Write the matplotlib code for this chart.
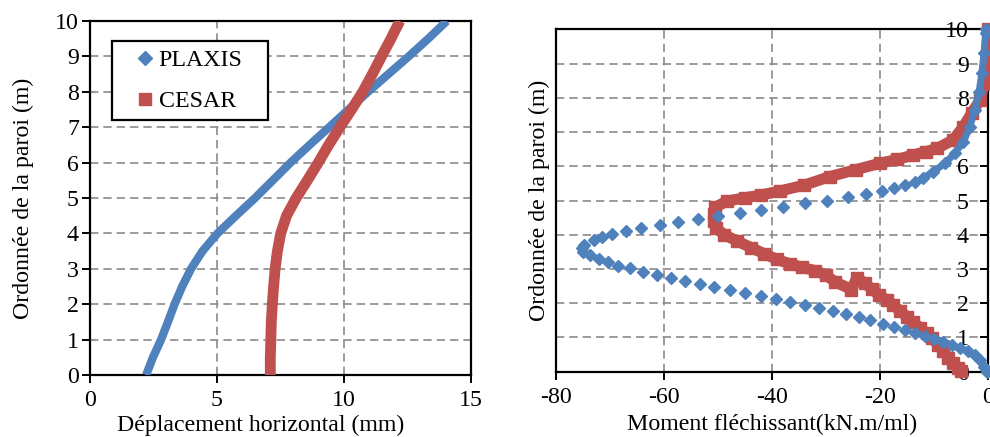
import numpy as np
import matplotlib.pyplot as plt
from matplotlib.lines import Line2D

plt.rcParams['font.family'] = ['Liberation Serif', 'DejaVu Serif']
plt.rcParams['font.size'] = 17.2
plt.rcParams['axes.unicode_minus'] = False

bleu = '#4F81BD'
rouge = '#C0504D'

# --- deplacement horizontal (mm) ---
ordonnee = [0, 0.5, 1, 1.5, 2, 2.5, 3, 3.5, 4, 4.5, 5, 5.5, 6, 6.5, 7, 7.5, 8, 8.5, 9, 9.5, 10]
depl_plaxis = [2.21, 2.48, 2.80, 3.07, 3.33, 3.63, 3.98, 4.43, 5.02, 5.75, 6.50,
               7.20, 7.90, 8.65, 9.42, 10.18, 10.95, 11.75, 12.55, 13.32, 14.05]
depl_cesar = [7.10, 7.10, 7.12, 7.14, 7.18, 7.23, 7.29, 7.38, 7.51, 7.74, 8.12,
              8.56, 8.99, 9.40, 9.84, 10.3, 10.74, 11.12, 11.48, 11.85, 12.2]

# --- moment flechissant (kN.m/ml) ---
mom_plaxis = [-0.3, -0.8, -1.5, -2.5, -3.7, -5.2, -6.8, -8.3, -10.0, -11.7, -13.6, -15.4,
              -17.4, -19.5, -21.8, -23.9, -26.3, -28.8, -31.3, -33.9, -36.7, -39.3, -42.1,
              -45.0, -47.8, -50.7, -53.3, -56.1, -58.7, -61.3, -63.8, -66.3, -68.4, -70.3,
              -71.9, -73.7, -74.9, -75.1, -74.8, -73.0, -71.5, -69.5, -67.0, -64.2, -60.8,
              -57.3, -53.6, -49.9, -46.0, -42.1, -38.0, -33.9, -29.8, -25.9, -22.6, -19.7,
              -17.4, -15.4, -13.6, -12.1, -10.2, -8.0, -6.2, -4.6, -3.4, -2.5, -1.7, -1.2,
              -0.8, -0.5, -0.4]
y_plaxis = [0.0, 0.15, 0.34, 0.49, 0.60, 0.68, 0.78, 0.88, 0.97, 1.05, 1.14, 1.22,
            1.31, 1.39, 1.51, 1.59, 1.68, 1.77, 1.85, 1.95, 2.04, 2.12, 2.21,
            2.29, 2.39, 2.48, 2.56, 2.66, 2.75, 2.82, 2.92, 3.02, 3.10, 3.19,
            3.28, 3.41, 3.50, 3.60, 3.70, 3.85, 3.92, 4.02, 4.11, 4.19, 4.28,
            4.37, 4.46, 4.55, 4.64, 4.72, 4.82, 4.92, 4.99, 5.09, 5.18, 5.29,
            5.36, 5.45, 5.53, 5.65, 5.84, 6.09, 6.38, 6.72, 7.16, 7.64, 8.18, 8.71,
            9.30, 9.88, 10.0]

mom_cesar = [-5.0, -5.6, -6.5, -7.4, -8.3, -9.3, -10.4, -11.4, -12.6, -13.9, -15.0, -16.3,
             -17.6, -18.8, -20.3, -21.6, -22.8, -24.3, -25.3, -28.4, -30.0, -32.0, -34.5,
             -36.7, -39.1, -41.5, -43.8, -46.5, -48.8, -50.4, -50.8, -50.8, -50.5, -48.4,
             -45.0, -42.0, -38.5, -34.0, -29.3, -24.5, -20.0, -16.8, -13.9, -11.5, -9.5,
             -6.5, -4.6, -3.1, -1.5, -0.8, -0.3, -0.1]
y_cesar = [0.02, 0.1, 0.25, 0.4, 0.6, 0.78, 0.98, 1.12, 1.28, 1.45, 1.6, 1.77,
           1.95, 2.1, 2.25, 2.42, 2.58, 2.75, 2.4, 2.63, 2.82, 2.95, 3.05,
           3.15, 3.28, 3.45, 3.62, 3.82, 4.0, 4.2, 4.4, 4.6, 4.8, 4.98,
           5.08, 5.16, 5.28, 5.45, 5.7, 5.9, 6.09, 6.2, 6.33, 6.43, 6.52,
           6.77, 7.16, 7.55, 7.94, 8.4, 9.0, 10.0]

fig = plt.figure(figsize=(9.9, 4.37), dpi=100)
ax1 = fig.add_axes([0.0909, 0.1419, 0.3848, 0.8101])
ax2 = fig.add_axes([0.5613, 0.1494, 0.4370, 0.7835])

for ax in (ax1, ax2):
    ax.grid(True, color='#8a8a8a', linestyle=(0, (5, 3)), linewidth=1.2)
    ax.set_axisbelow(True)
    for s in ax.spines.values():
        s.set_linewidth(1.6)
        s.set_color('black')
    ax.tick_params(direction='out', length=6, width=1.4, color='black')

# graphe de gauche
ax1.plot(depl_plaxis, ordonnee, color=bleu, lw=6, solid_capstyle='butt',
         solid_joinstyle='round', zorder=3)
ax1.plot(depl_cesar, ordonnee, color=rouge, lw=7.8, solid_capstyle='butt',
         solid_joinstyle='round', zorder=4)
ax1.set_xlim(0, 15)
ax1.set_ylim(0, 10)
ax1.set_xticks([0, 5, 10, 15])
ax1.set_yticks(range(0, 11))
ax1.tick_params(axis='x', pad=5)
ax1.tick_params(axis='y', pad=2)
ax1.set_xlabel('Déplacement horizontal (mm)')
ax1.xaxis.set_label_coords(0.449, -0.112)
ax1.set_ylabel('Ordonnée de la paroi (m)')
ax1.yaxis.set_label_coords(-0.147, 0.5)

poignees = [Line2D([], [], color=bleu, marker='D', ms=7, ls='none'),
            Line2D([], [], color=rouge, marker='s', ms=8, ls='none')]
leg = ax1.legend(poignees, ['PLAXIS', 'CESAR'], loc='upper left',
                 bbox_to_anchor=(0.0577, 0.70, 0.41, 0.243), mode='expand',
                 borderaxespad=0, fancybox=False, framealpha=1, edgecolor='black',
                 borderpad=0.35, labelspacing=0.8, handlelength=2.1, handletextpad=-0.5)
leg.get_frame().set_linewidth(1.6)

# graphe de droite
dense = (np.array(y_plaxis) < 1.0) | (np.array(y_plaxis) > 5.6)
ax2.plot(mom_cesar, y_cesar, color=rouge, lw=8, marker='s', ms=8.5, ls='-',
         solid_capstyle='butt', solid_joinstyle='round', zorder=3, clip_on=False)
ax2.plot(np.where(dense, mom_plaxis, np.nan), y_plaxis, color=bleu, lw=5, zorder=4,
         solid_joinstyle='round', clip_on=False)
ax2.plot(mom_plaxis, y_plaxis, color=bleu, marker='D', ms=6, ls='none', zorder=5,
         clip_on=False)
ax2.set_xlim(-80, 0)
ax2.set_ylim(0, 10)
ax2.set_xticks([-80, -60, -40, -20, 0])
ax2.set_yticks(range(0, 11))
ax2.spines['left'].set_position(('data', 0))
ax2.spines['right'].set_position(('data', -80))
ax2.yaxis.set_ticks_position('left')
ax2.tick_params(axis='y', pad=8)
ax2.tick_params(axis='x', pad=5)
ax2.set_xlabel('Moment fléchissant(kN.m/ml)')
ax2.xaxis.set_label_coords(0.5, -0.124)
ax2.set_ylabel('Ordonnée de la paroi (m)')
ax2.yaxis.set_label_coords(-0.013, 0.5)

fig.savefig('out.png', dpi=100)
